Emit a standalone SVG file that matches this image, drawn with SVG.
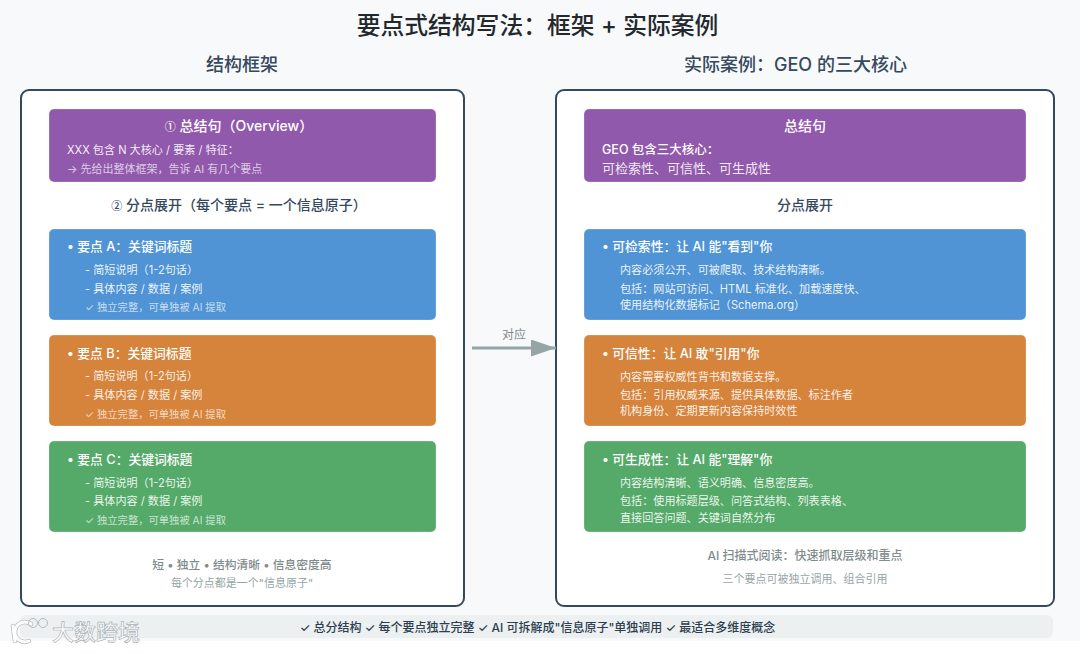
<svg xmlns="http://www.w3.org/2000/svg" width="1080" height="653" viewBox="0 0 1080 653">
<style>
text{font-family:"Inter","Noto Sans CJK SC",sans-serif}
.panel{fill:#fff;stroke:#34495e;stroke-width:2}
.box{stroke:#fff;stroke-opacity:.25;stroke-width:1}
.pu{fill:#9159ac}.bl{fill:#5094d5}.or{fill:#d6833c}.gr{fill:#55aa69}
.h{font-size:12.8px;font-weight:500;fill:#fff}
.o{font-size:14px;font-weight:500;fill:#fff}
.t{font-size:11.1px;fill:#fff;fill-opacity:.9}
.s{font-size:10.3px;fill:#fff;fill-opacity:.7}
.m{text-anchor:middle}
.sec{font-size:18px;font-weight:500;fill:#34495e;text-anchor:middle}
.sub{font-size:14px;font-weight:500;fill:#34495e;text-anchor:middle}
.num{font-family:"Noto Sans CJK SC",sans-serif;font-size:11px}
</style>
<defs><marker id="arr" markerUnits="userSpaceOnUse" markerWidth="25" markerHeight="18" refX="25" refY="8.5" orient="auto"><path d="M0 0L25 8.500L0 17Z" fill="#95a5a6"/></marker></defs>
<rect width="1080" height="641" fill="#f8f9fa"/>
<rect y="641" width="1080" height="12" fill="#fff"/>
<text x="537.500" y="34" class="m" style="font-size:23.800px;font-weight:500;fill:#23282d">要点式结构写法：框架 + 实际案例</text>
<text x="242" y="71" class="sec">结构框架</text>
<text x="795.500" y="71" class="sec">实际案例：GEO 的三大核心</text>
<g id="panel-left"><rect class="panel" x="21" y="90" width="443" height="516" rx="8"/></g>
<g id="panel-right"><rect class="panel" x="556" y="90" width="498" height="516" rx="8"/></g>
<g id="left-overview"><rect class="box pu" x="49" y="109" width="387" height="73" rx="5"/>
<text x="239" y="131" class="o m"><tspan class="num">①</tspan> 总结句（Overview）</text>
<text x="67" y="154" class="t">XXX 包含 N 大核心 / 要素 / 特征：</text>
<text x="67" y="173" style="font-size:11px;fill:#fff;fill-opacity:.7">→ 先给出整体框架，告诉 AI 有几个要点</text></g>
<text x="239" y="210" class="sub"><tspan class="num">②</tspan> 分点展开（每个要点 = 一个信息原子）</text>
<g id="left-a"><rect class="box bl" x="49" y="229" width="387" height="91" rx="5"/>
<text x="67" y="251" class="h">• 要点 A：关键词标题</text>
<text x="85" y="274" class="t">- 简短说明（1-2句话）</text>
<text x="85" y="293" class="t">- 具体内容 / 数据 / 案例</text>
<text x="85" y="311" class="s">✓ 独立完整，可单独被 AI 提取</text></g>
<g id="left-b"><rect class="box or" x="49" y="335" width="387" height="91" rx="5"/>
<text x="67" y="358" class="h">• 要点 B：关键词标题</text>
<text x="85" y="380" class="t">- 简短说明（1-2句话）</text>
<text x="85" y="399" class="t">- 具体内容 / 数据 / 案例</text>
<text x="85" y="418" class="s">✓ 独立完整，可单独被 AI 提取</text></g>
<g id="left-c"><rect class="box gr" x="49" y="441" width="387" height="91" rx="5"/>
<text x="67" y="464" class="h">• 要点 C：关键词标题</text>
<text x="85" y="487" class="t">- 简短说明（1-2句话）</text>
<text x="85" y="505" class="t">- 具体内容 / 数据 / 案例</text>
<text x="85" y="524" class="s">✓ 独立完整，可单独被 AI 提取</text></g>
<text x="242" y="569" class="m" style="font-size:11.800px;font-weight:500;fill:#7f8c8d">短 • 独立 • 结构清晰 • 信息密度高</text>
<text x="242" y="587" class="m" style="font-size:11px;fill:#95a5a6">每个分点都是一个"信息原子"</text>
<g id="right-overview"><rect class="box pu" x="584" y="109" width="442" height="73" rx="5"/>
<text x="805" y="131" class="o m">总结句</text>
<text x="602" y="154" style="font-size:12.500px;font-weight:500;fill:#fff">GEO 包含三大核心：</text>
<text x="602" y="173" style="font-size:13px;fill:#fff;fill-opacity:.9">可检索性、可信性、可生成性</text></g>
<text x="805" y="210" class="sub">分点展开</text>
<g id="right-a"><rect class="box bl" x="584" y="229" width="442" height="91" rx="5"/>
<text x="602" y="251" class="h">• 可检索性：让 AI 能"看到"你</text>
<text x="620" y="274" class="t">内容必须公开、可被爬取、技术结构清晰。</text>
<text x="620" y="293" class="t">包括：网站可访问、HTML 标准化、加载速度快、</text>
<text x="620" y="309" class="t">使用结构化数据标记（Schema.org）</text></g>
<g id="right-b"><rect class="box or" x="584" y="335" width="442" height="91" rx="5"/>
<text x="602" y="358" class="h">• 可信性：让 AI 敢"引用"你</text>
<text x="620" y="381" class="t">内容需要权威性背书和数据支撑。</text>
<text x="620" y="399" class="t">包括：引用权威来源、提供具体数据、标注作者</text>
<text x="620" y="415" class="t">机构身份、定期更新内容保持时效性</text></g>
<g id="right-c"><rect class="box gr" x="584" y="441" width="442" height="91" rx="5"/>
<text x="602" y="464" class="h">• 可生成性：让 AI 能"理解"你</text>
<text x="620" y="487" class="t">内容结构清晰、语义明确、信息密度高。</text>
<text x="620" y="505" class="t">包括：使用标题层级、问答式结构、列表表格、</text>
<text x="620" y="522" class="t">直接回答问题、关键词自然分布</text></g>
<text x="805" y="560" class="m" style="font-size:12px;font-weight:500;fill:#7f8c8d">AI 扫描式阅读：快速抓取层级和重点</text>
<text x="805" y="583" class="m" style="font-size:11px;fill:#95a5a6">三个要点可被独立调用、组合引用</text>
<g id="connectors"><line x1="472" y1="348" x2="556" y2="348" stroke="#95a5a6" stroke-width="3" marker-end="url(#arr)"/>
<text x="514" y="339" class="m" style="font-size:12px;fill:#7f8c8d">对应</text></g>
<g id="footer"><rect x="20" y="615" width="1033" height="23" rx="6" fill="#ecf0f1"/>
<text x="537.500" y="632" class="m" style="font-size:12px;font-weight:500;fill:#2c3e50">✓ 总分结构 ✓ 每个要点独立完整 ✓ AI 可拆解成"信息原子"单独调用 ✓ 最适合多维度概念</text></g>
<g id="watermark">
<g fill="none" stroke="#b5bcbf" stroke-width="4.500" stroke-linecap="round"><path d="M13 626L15 641M31 624A10 10 0 1 0 29 641"/></g>
<g fill="none" stroke="#fff" stroke-width="3" stroke-linecap="round"><path d="M13 626L15 641M31 624A10 10 0 1 0 29 641"/></g>
<g fill="none" stroke="#b5bcbf" stroke-width="1"><circle cx="33" cy="623" r="4.500"/><circle cx="43" cy="623" r="4.500"/></g>
<text x="52" y="640" style="font-size:22px;font-weight:500;fill:#fff;stroke:#aab2b6;stroke-width:.7">大数跨境</text></g>
</svg>
